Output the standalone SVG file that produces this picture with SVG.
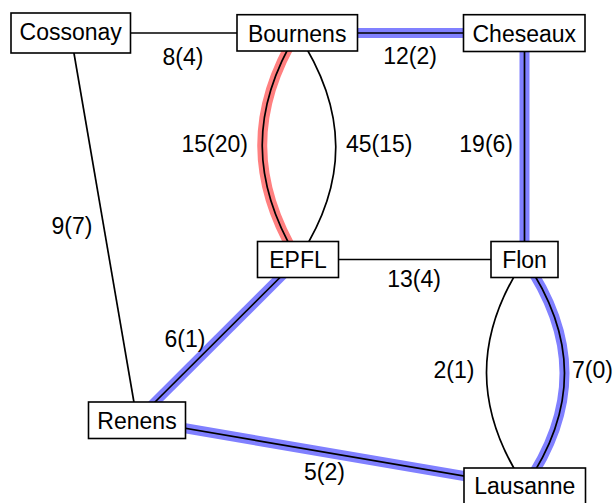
<svg xmlns="http://www.w3.org/2000/svg" width="616" height="503" viewBox="0 0 616 503">
<style>
  .edge { fill: none; stroke: #000; stroke-width: 1.7; }
  .hb { fill: none; stroke: #8080ff; stroke-width: 10; }
  .hr { fill: none; stroke: #ff8080; stroke-width: 10; }
  .box { fill: #fff; stroke: #000; stroke-width: 1.6; }
  text { font-family: "Liberation Sans", Arial, sans-serif; font-size: 23px; fill: #000; }
  .c { text-anchor: middle; }
  .e { text-anchor: end; }
  .s { text-anchor: start; }
</style>
<rect width="616" height="503" fill="#fff"/>
<g id="connectors">
  <!-- highlights -->
  <path class="hb" d="M297,33 L524.5,33"/>
  <path class="hr" d="M297,33 C250,110 251,182.5 298,259.5"/>
  <path class="hb" d="M524.5,33 L524.5,259.5"/>
  <path class="hb" d="M298,259.5 L137,420"/>
  <path class="hb" d="M524.5,259.5 C577.5,336.5 578,409.5 525,486.5"/>
  <path class="hb" d="M137,420 L525,486.5"/>
  <!-- edges -->
  <path class="edge" d="M70.5,33 L297,33"/>
  <path class="edge" d="M297,33 L524.5,33"/>
  <path class="edge" d="M70.5,33 L137,420"/>
  <path class="edge" d="M297,33 C250,110 251,182.5 298,259.5"/>
  <path class="edge" d="M297,33 C348,110 349,182.5 298,259.5"/>
  <path class="edge" d="M524.5,33 L524.5,259.5"/>
  <path class="edge" d="M298,259.5 L524.5,259.5"/>
  <path class="edge" d="M298,259.5 L137,420"/>
  <path class="edge" d="M524.5,259.5 C473.5,336.5 474,409.5 525,486.5"/>
  <path class="edge" d="M524.5,259.5 C577.5,336.5 578,409.5 525,486.5"/>
  <path class="edge" d="M137,420 L525,486.5"/>
  <!-- labels -->
  <text class="c" x="183" y="65">8(4)</text>
  <text class="c" x="410" y="64">12(2)</text>
  <text class="c" x="72" y="233.5">9(7)</text>
  <text class="e" x="248" y="152">15(20)</text>
  <text class="s" x="346" y="152">45(15)</text>
  <text class="e" x="513" y="152">19(6)</text>
  <text class="c" x="414" y="287">13(4)</text>
  <text class="c" x="185" y="347">6(1)</text>
  <text class="c" x="454" y="378">2(1)</text>
  <text class="s" x="572" y="378">7(0)</text>
  <text class="c" x="324.5" y="480">5(2)</text>
</g>
<g id="Cossonay">
  <rect class="box" x="11" y="13" width="119.5" height="40"/>
  <text class="c" x="70.7" y="39.5">Cossonay</text>
</g>
<g id="Bournens">
  <rect class="box" x="237" y="14.7" width="120.5" height="36.3"/>
  <text class="c" x="297.2" y="42">Bournens</text>
</g>
<g id="Cheseaux">
  <rect class="box" x="463.5" y="14.7" width="121.5" height="36.8"/>
  <text class="c" x="524.3" y="41.7">Cheseaux</text>
</g>
<g id="EPFL">
  <rect class="box" x="257.5" y="241.5" width="81" height="36"/>
  <text class="c" x="298" y="268">EPFL</text>
</g>
<g id="Flon">
  <rect class="box" x="491" y="241.5" width="67" height="36"/>
  <text class="c" x="524.5" y="268">Flon</text>
</g>
<g id="Renens">
  <rect class="box" x="88.5" y="402" width="97" height="36.5"/>
  <text class="c" x="137" y="429">Renens</text>
</g>
<g id="Lausanne">
  <rect class="box" x="464" y="468" width="121.5" height="37"/>
  <text class="c" x="524.8" y="494">Lausanne</text>
</g>
</svg>
